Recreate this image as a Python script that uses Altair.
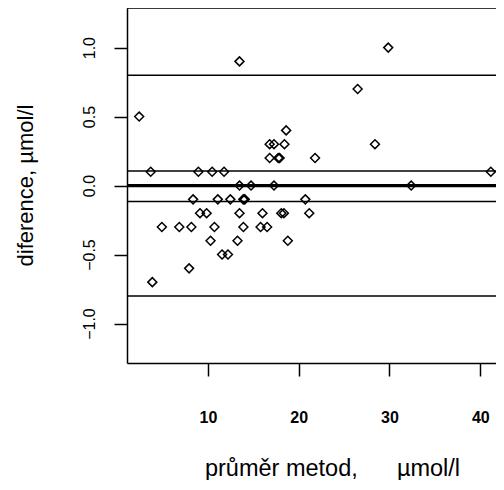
import altair as alt
import pandas as pd

# Bland-Altman data: mean of methods (x) and difference (y), umol/l
x_vals = [29.86, 13.48, 26.49, 2.43, 18.62,
          16.8, 17.28, 18.43, 28.4,
          16.8, 17.75, 17.9, 21.8,
          3.70, 8.95, 10.47, 11.78, 41.16,
          13.48, 14.75, 17.28, 32.39,
          8.37, 11.09, 12.47, 13.9, 14.06, 20.73,
          9.13, 9.86, 13.48, 16.01, 18.08, 18.37, 21.16,
          4.93, 6.85, 8.18, 10.72, 13.91, 15.8, 16.52,
          10.29, 13.26, 18.8,
          11.56, 12.21,
          7.93,
          3.88]
y_vals = [1.0, 0.9, 0.7, 0.5, 0.4,
          0.3, 0.3, 0.3, 0.3,
          0.2, 0.2, 0.2, 0.2,
          0.1, 0.1, 0.1, 0.1, 0.1,
          0.0, 0.0, 0.0, 0.0,
          -0.1, -0.1, -0.1, -0.1, -0.1, -0.1,
          -0.2, -0.2, -0.2, -0.2, -0.2, -0.2, -0.2,
          -0.3, -0.3, -0.3, -0.3, -0.3, -0.3, -0.3,
          -0.4, -0.4, -0.4,
          -0.5, -0.5,
          -0.6,
          -0.7]

bias = [0.0]
limit_lines = [0.80, 0.106, -0.116, -0.80]
x_ticks = [10, 20, 30, 40]
y_ticks = [-1.0, -0.5, 0.0, 0.5, 1.0]

X_DOMAIN = [1.09, 41.73]
Y_DOMAIN = [-1.286, 1.287]
W, H = 369, 355
FONT = "Liberation Sans"

pts = pd.DataFrame({"x": x_vals, "y": y_vals})
df_bias = pd.DataFrame({"y": bias})
df_lim = pd.DataFrame({"y": limit_lines})

xscale = alt.Scale(domain=X_DOMAIN, nice=False, zero=False)
yscale = alt.Scale(domain=Y_DOMAIN, nice=False, zero=False)

y_axis = alt.Axis(values=y_ticks, format=".1f", grid=False, tickSize=13,
                  tickWidth=1.5, tickColor="black", domainColor="black",
                  domainWidth=1.5, labelFont=FONT, labelFontSize=16,
                  labelColor="black", labelAngle=270, labelAlign="center",
                  labelBaseline="bottom", labelPadding=17,
                  title="diference, µmol/l", titleFont=FONT, titleFontSize=22,
                  titleFontWeight="normal", titleColor="black", titleAngle=270,
                  titleX=-95, titleY=177, titleAlign="center",
                  titleBaseline="alphabetic")

x_axis = alt.Axis(values=x_ticks, grid=False, tickSize=13, tickWidth=1.5,
                  tickColor="black", domainColor="black", domainWidth=1.5,
                  labelFont=FONT, labelFontSize=16, labelFontWeight="bold",
                  labelColor="black", labelPadding=33,
                  title="průměr metod,\u00a0\u00a0\u00a0\u00a0\u00a0\u00a0µmol/l",
                  titleFont=FONT, titleFontSize=23.5, titleFontWeight="normal",
                  titleColor="black", titleX=205, titleY=112,
                  titleAlign="center", titleBaseline="alphabetic")

points = alt.Chart(pts).mark_point(
    shape="diamond", filled=False, size=80, color="black", strokeWidth=1.5, opacity=1
).encode(
    x=alt.X("x:Q", scale=xscale, axis=x_axis),
    y=alt.Y("y:Q", scale=yscale, axis=y_axis),
)

lim = alt.Chart(df_lim).mark_rule(color="black", strokeWidth=1.6).encode(
    y=alt.Y("y:Q", scale=yscale, axis=y_axis)
)
bias_rule = alt.Chart(df_bias).mark_rule(color="black", strokeWidth=3.2).encode(
    y=alt.Y("y:Q", scale=yscale, axis=y_axis)
)
top_border = alt.Chart(df_bias).mark_rule(color="black", strokeWidth=1.5).encode(
    x=alt.value(0), x2=alt.value(W), y=alt.value(0)
)

chart = alt.layer(points, lim, bias_rule, top_border).properties(
    width=W, height=H,
    autosize=alt.AutoSizeParams(type="none"),
    padding={"left": 119, "top": 0, "right": 0, "bottom": 117},
).configure_view(stroke=None).configure(background="white")

chart.save("out.html", embed_options={"renderer": "svg", "actions": False})
